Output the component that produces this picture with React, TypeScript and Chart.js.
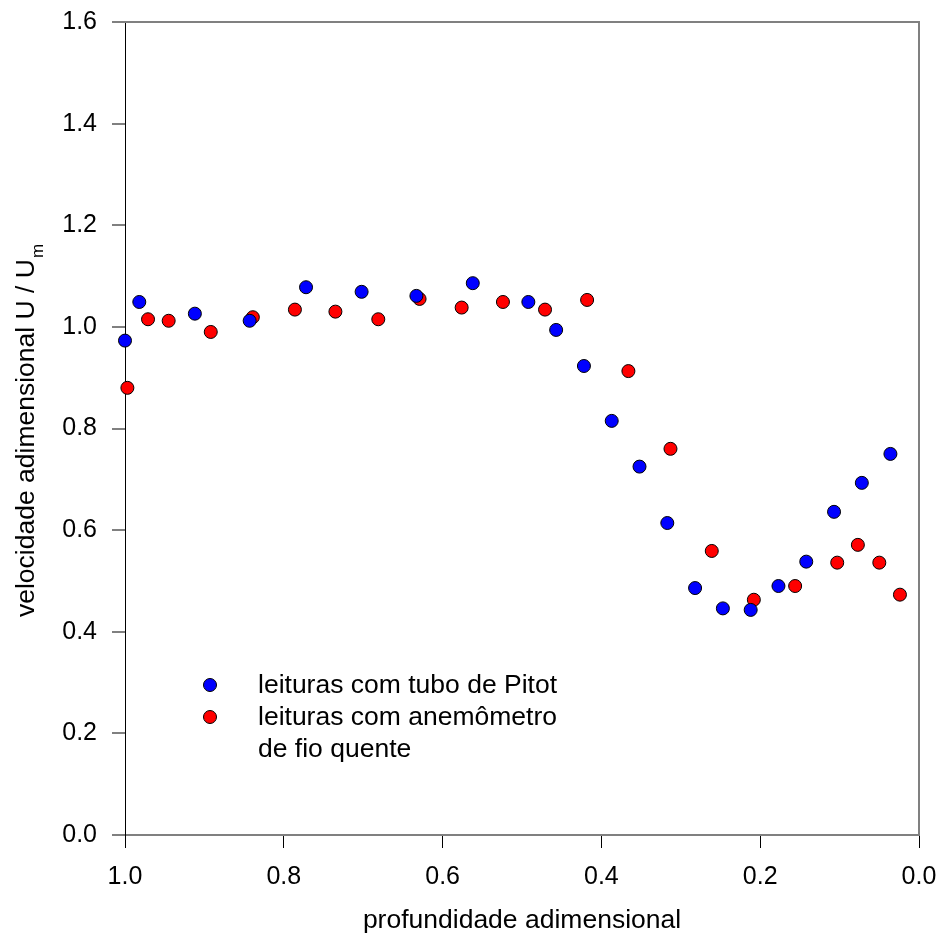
import React, { useEffect, useRef } from "react";
import { Chart, registerables } from "chart.js";

Chart.register(...registerables);

const pitotX = [1.0, 0.982, 0.912, 0.843, 0.772, 0.702, 0.633, 0.562, 0.492, 0.457, 0.422, 0.387, 0.352, 0.317, 0.282, 0.247, 0.212, 0.177, 0.142, 0.107, 0.072, 0.036];
const pitotY = [0.973, 1.049, 1.026, 1.012, 1.078, 1.069, 1.061, 1.086, 1.049, 0.994, 0.923, 0.815, 0.725, 0.614, 0.486, 0.446, 0.443, 0.49, 0.538, 0.636, 0.693, 0.75];

const hotwireX = [0.997, 0.971, 0.945, 0.892, 0.839, 0.786, 0.735, 0.681, 0.629, 0.576, 0.524, 0.471, 0.418, 0.366, 0.313, 0.261, 0.208, 0.156, 0.103, 0.077, 0.05, 0.024];
const hotwireY = [0.88, 1.015, 1.012, 0.99, 1.019, 1.034, 1.03, 1.015, 1.055, 1.038, 1.049, 1.034, 1.053, 0.913, 0.76, 0.559, 0.463, 0.49, 0.536, 0.571, 0.536, 0.473];

const xTicks = [1.0, 0.8, 0.6, 0.4, 0.2, 0.0];
const yTicks = [0.0, 0.2, 0.4, 0.6, 0.8, 1.0, 1.2, 1.4, 1.6];

const seriesLabels = ["leituras com tubo de Pitot", "leituras com anemômetro\nde fio quente"];
const xTitle = "profundidade adimensional";
const yTitleMain = "velocidade adimensional U / U";
const yTitleSub = "m";

const FONT = "'Liberation Sans', Arial, sans-serif";

const framePlugin = {
  id: "frame",
  afterDraw(chart: any) {
    const { ctx, chartArea: a } = chart;
    ctx.save();
    ctx.strokeStyle = "#808080";
    ctx.lineWidth = 2;
    ctx.beginPath();
    ctx.moveTo(a.left, a.top);
    ctx.lineTo(a.right, a.top);
    ctx.lineTo(a.right, a.bottom);
    ctx.stroke();
    ctx.restore();
  },
};

const textPlugin = {
  id: "texts",
  afterDraw(chart: any) {
    const { ctx, chartArea: a } = chart;
    ctx.save();
    ctx.fillStyle = "#000";
    // x title
    ctx.font = `26.5px ${FONT}`;
    ctx.textAlign = "center";
    ctx.textBaseline = "middle";
    ctx.fillText(xTitle, (a.left + a.right) / 2, 921);
    // y title rotated
    ctx.save();
    ctx.translate(27, 431);
    ctx.rotate(-Math.PI / 2);
    ctx.font = `26.5px ${FONT}`;
    const w1 = ctx.measureText(yTitleMain).width;
    ctx.font = `17px ${FONT}`;
    const w2 = ctx.measureText(yTitleSub).width;
    const start = -(w1 + w2) / 2;
    ctx.textAlign = "left";
    ctx.textBaseline = "middle";
    ctx.font = `26.5px ${FONT}`;
    ctx.fillText(yTitleMain, start, 0);
    ctx.font = `17px ${FONT}`;
    ctx.fillText(yTitleSub, start + w1 + 1, 11);
    ctx.restore();
    // legend
    const ds = chart.data.datasets;
    const rows = [685, 717];
    ctx.font = `26.5px ${FONT}`;
    ctx.textAlign = "left";
    ctx.textBaseline = "middle";
    ds.forEach((d: any, i: number) => {
      const y = rows[i];
      ctx.beginPath();
      ctx.arc(210, y, 6.5, 0, Math.PI * 2);
      ctx.fillStyle = d.backgroundColor;
      ctx.fill();
      ctx.lineWidth = 1;
      ctx.strokeStyle = "#000";
      ctx.stroke();
      ctx.fillStyle = "#000";
      String(d.label).split("\n").forEach((line: string, j: number) => {
        ctx.fillText(line, 258, y + 1 + j * 32);
      });
    });
    ctx.restore();
  },
};

export default function App() {
  const ref = useRef<HTMLCanvasElement>(null);
  useEffect(() => {
    if (!ref.current) return;
    const chart = new Chart(ref.current, {
      type: "scatter",
      data: {
        datasets: [
          {
            label: seriesLabels[0],
            data: pitotX.map((x, i) => ({ x, y: pitotY[i] })),
            backgroundColor: "#0000FF",
            borderColor: "#000000",
            borderWidth: 1,
            pointRadius: 6.5,
            clip: false as any,
          },
          {
            label: seriesLabels[1],
            data: hotwireX.map((x, i) => ({ x, y: hotwireY[i] })),
            backgroundColor: "#FF0000",
            borderColor: "#000000",
            borderWidth: 1,
            pointRadius: 6.5,
            clip: false as any,
          },
        ],
      },
      options: {
        animation: false,
        responsive: false,
        maintainAspectRatio: false,
        layout: { padding: { left: 0, top: 22, right: 20, bottom: 0 } },
        plugins: { legend: { display: false }, tooltip: { enabled: false } },
        scales: {
          x: {
            type: "linear",
            reverse: true,
            min: 0,
            max: 1,
            afterBuildTicks: (s: any) => {
              s.ticks = xTicks.map((v) => ({ value: v }));
            },
            afterFit: (s: any) => {
              s.height = 101;
              s.paddingLeft = 0;
              s.paddingRight = 0;
            },
            ticks: {
              callback: (v: any) => Number(v).toFixed(1),
              font: { size: 25, family: FONT },
              color: "#000",
              padding: 14,
              maxRotation: 0,
            },
            grid: { drawOnChartArea: false, drawTicks: true, tickLength: 13, color: "#000", lineWidth: 1 },
            border: { display: true, color: "#808080", width: 2 },
          },
          y: {
            type: "linear",
            min: 0,
            max: 1.6,
            afterBuildTicks: (s: any) => {
              s.ticks = yTicks.map((v) => ({ value: v }));
            },
            afterFit: (s: any) => {
              s.width = 125;
              s.paddingTop = 0;
              s.paddingBottom = 0;
            },
            ticks: {
              callback: (v: any) => Number(v).toFixed(1),
              font: { size: 25, family: FONT },
              color: "#000",
              padding: 15,
            },
            grid: { drawOnChartArea: false, drawTicks: true, tickLength: 13, color: "#808080", lineWidth: 2 },
            border: { display: true, color: "#000", width: 1 },
          },
        },
      },
      plugins: [framePlugin, textPlugin],
    });
    return () => chart.destroy();
  }, []);
  return (
    <div style={{ position: "absolute", left: 0, top: 0, width: 939, height: 936, background: "#fff" }}>
      <canvas ref={ref} width={939} height={936} style={{ width: 939, height: 936 }} />
    </div>
  );
}
